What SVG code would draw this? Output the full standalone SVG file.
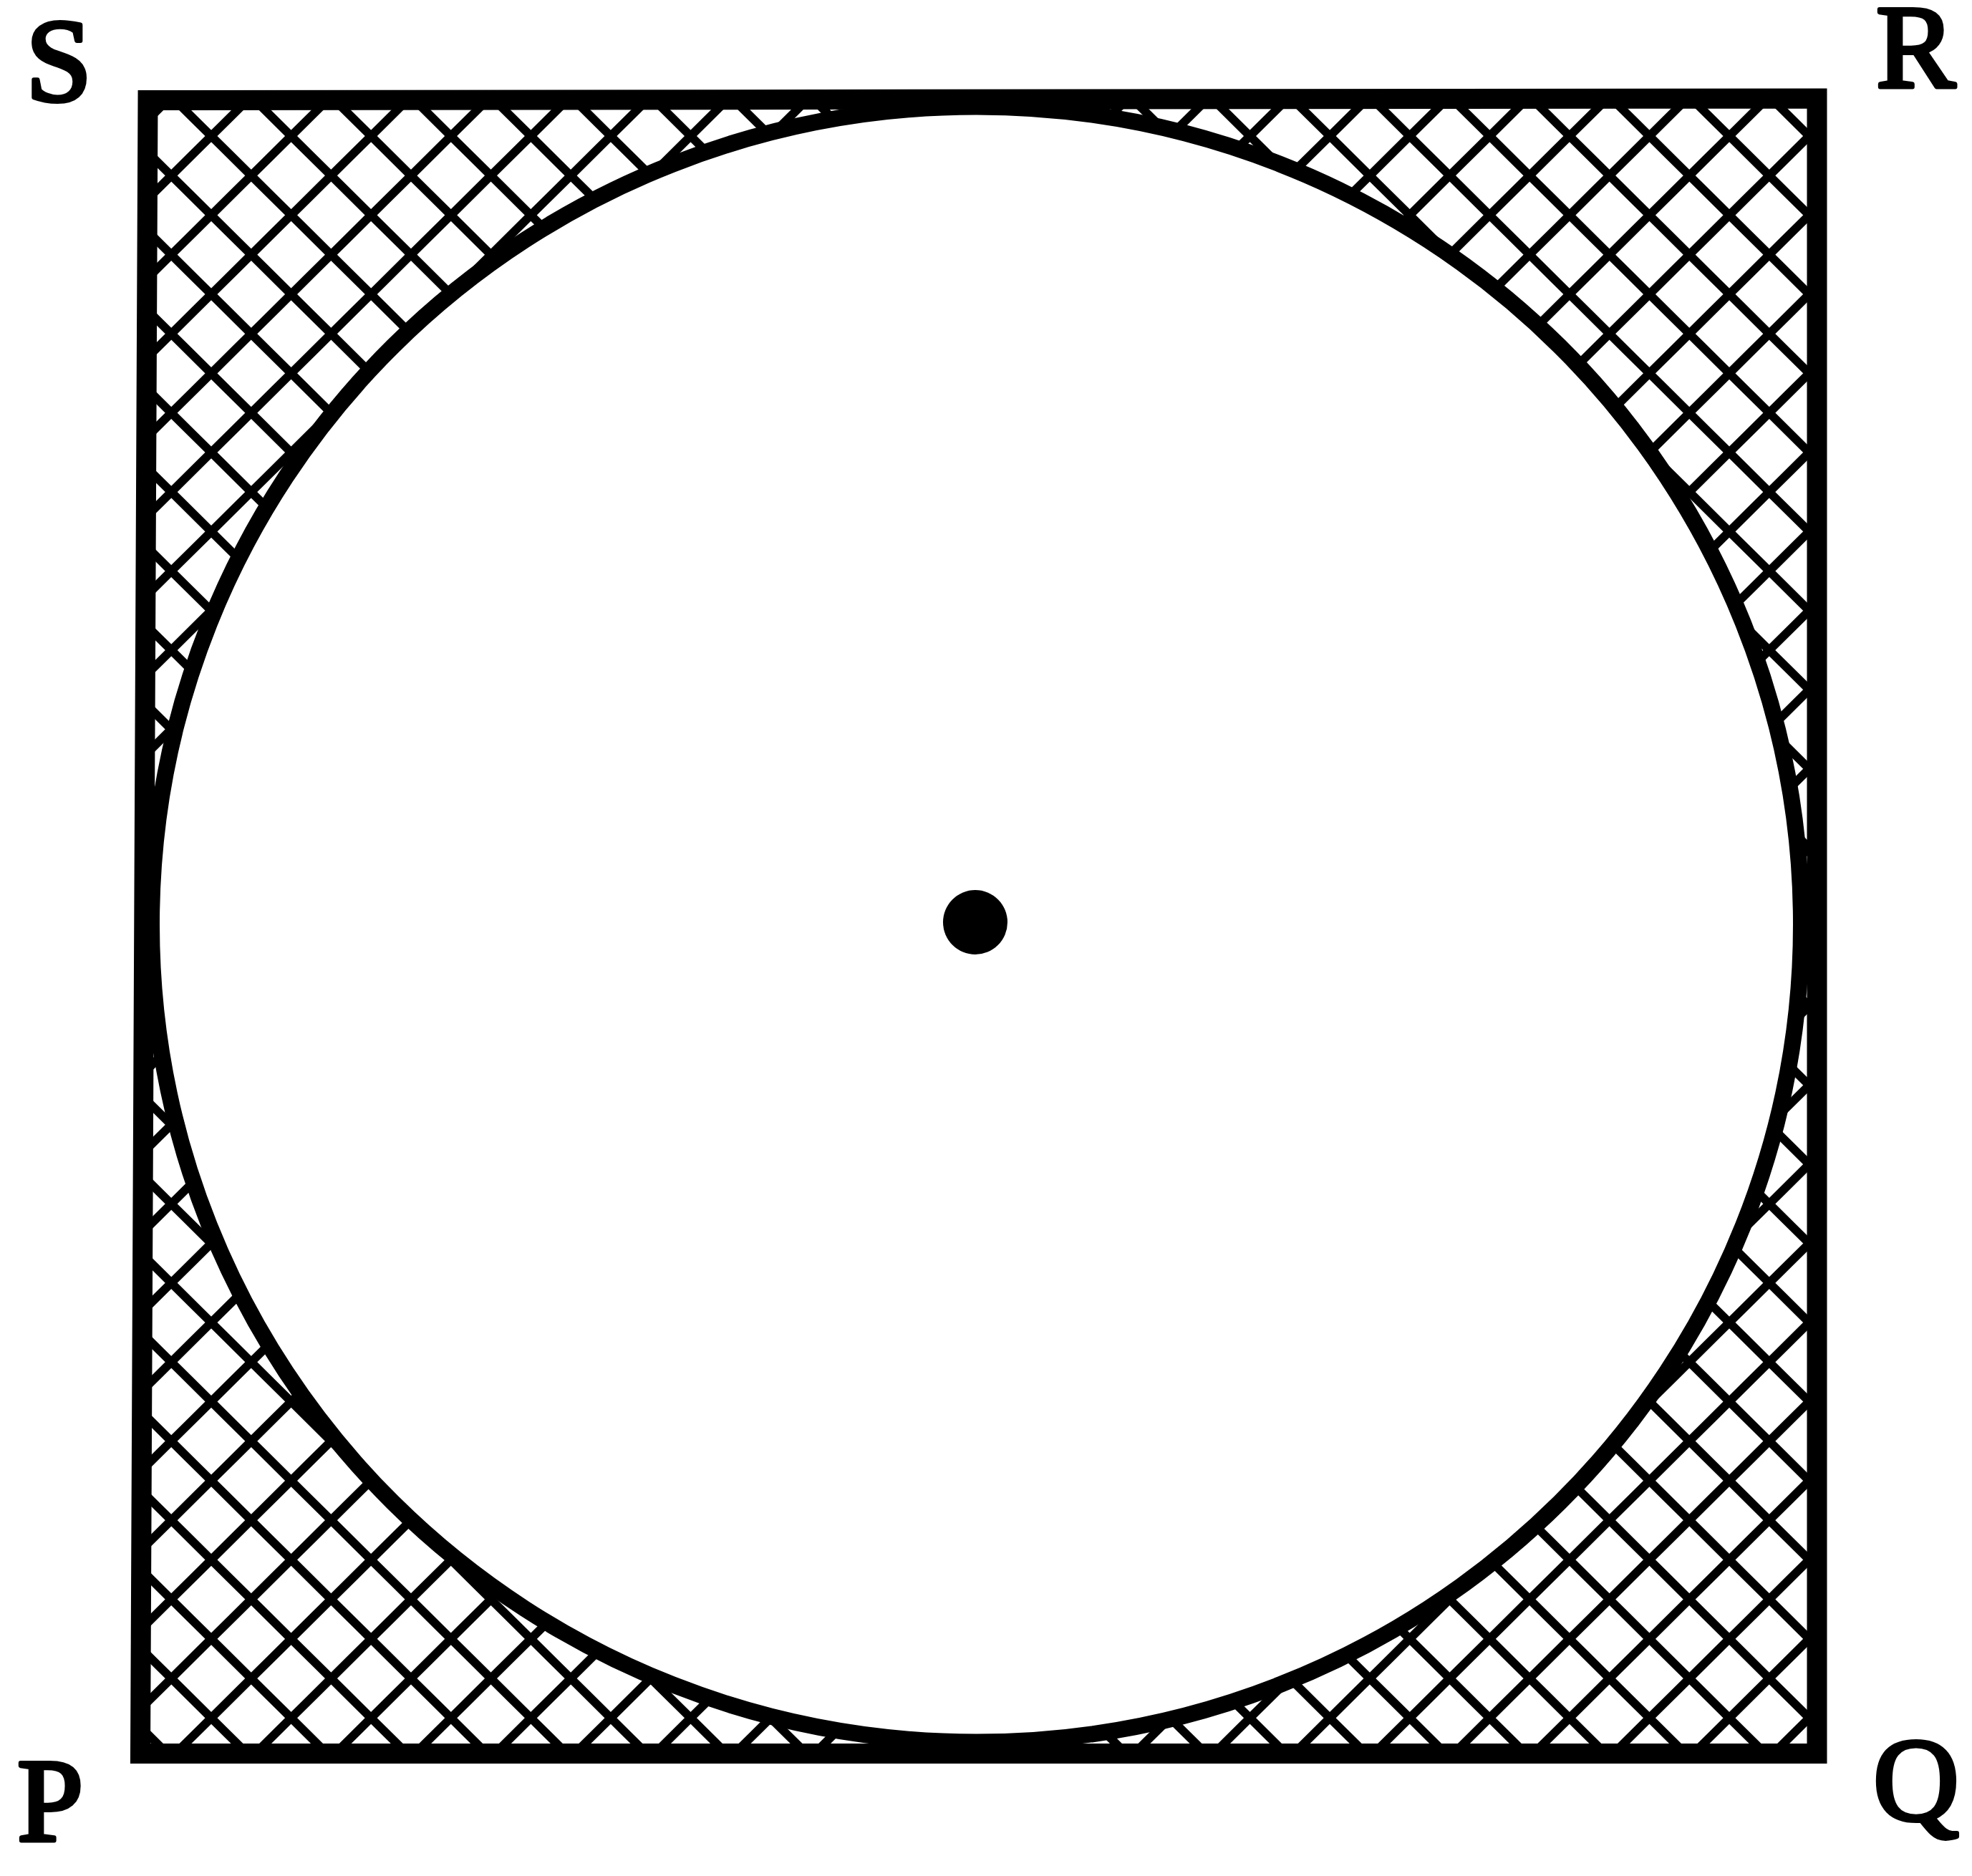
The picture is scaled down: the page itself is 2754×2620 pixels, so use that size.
<svg xmlns="http://www.w3.org/2000/svg" width="2754" height="2620" viewBox="0 0 2754 2620">
<style>
.lbl{font-family:"Liberation Serif","Times New Roman",Times,serif;font-weight:normal;font-size:166px;fill:#000;stroke:#000;stroke-width:6;stroke-linejoin:round}
.edge{fill:none;stroke:#000;stroke-width:28;stroke-linejoin:miter}
</style>
<defs>
<pattern id="hatch" patternUnits="userSpaceOnUse" width="78.9" height="78.9" patternTransform="translate(295 190) scale(1 0.99) rotate(45)">
<rect x="0" y="0" width="78.9" height="6" fill="#000"/>
<rect x="0" y="72.9" width="78.9" height="6" fill="#000"/>
<rect x="0" y="0" width="6" height="78.9" fill="#000"/>
<rect x="72.9" y="0" width="6" height="78.9" fill="#000"/>
</pattern>
</defs>
<rect width="2754" height="2620" fill="#fff"/>
<g id="square-fill">
<polygon points="206.5,140 2537.5,137.5 2537.5,2449 196,2449" fill="url(#hatch)"/>
</g>
<g id="circle">
<ellipse cx="1363.5" cy="1291" rx="1152" ry="1142" fill="#fff" stroke="#000" stroke-width="23"/>
</g>
<g id="square">
<polygon class="edge" points="206.5,140 2537.5,137.5 2537.5,2449 196,2449"/>
</g>
<g id="center">
<circle cx="1362" cy="1288" r="45" fill="#000"/>
</g>
<g id="labels">
<text class="lbl" x="36" y="140">S</text>
<text class="lbl" x="2620" y="122">R</text>
<text class="lbl" x="24" y="2571">P</text>
<text class="lbl" x="2616" y="2541">Q</text>
</g>
<g id="connectors"></g>
</svg>
